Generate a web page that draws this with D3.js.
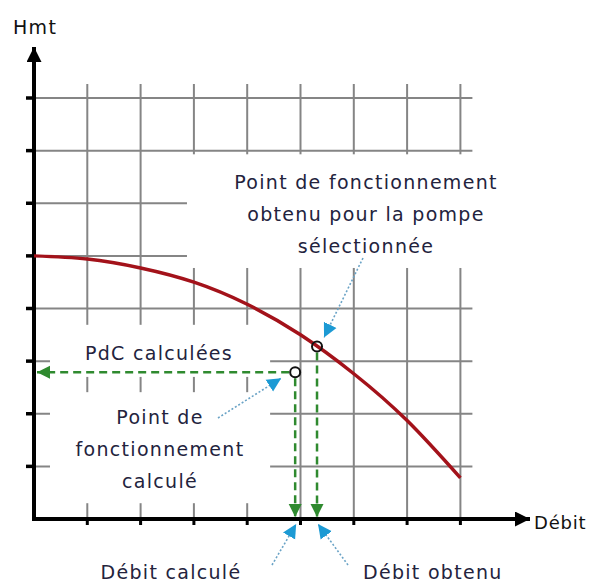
<!DOCTYPE html>
<html>
<head>
<meta charset="utf-8">
<script src="https://cdn.jsdelivr.net/npm/d3@7"></script>
<style>
  body { margin: 0; background: #fff; }
  text { font-family: "DejaVu Sans", sans-serif; }
</style>
</head>
<body>
<div class="D3"></div>
<script>
// pump curve (flow in grid units, head in grid units)
var curveFlow = [0, 1, 2, 3, 4, 5, 6, 7, 8];
var curveHead = [5.0, 4.94, 4.77, 4.5, 4.08, 3.5, 2.76, 1.87, 0.78];

// grid lines / ticks
var gridTicks = [1, 2, 3, 4, 5, 6, 7, 8];

// operating points [flow, head]
var pointObtained = [5.31, 3.28];
var pointCalculated = [4.9, 2.79];

// texts
var yAxisLabel = "Hmt";
var xAxisLabel = "Débit";
var noteObtained = ["Point de fonctionnement", "obtenu pour la pompe", "sélectionnée"];
var notePdc = ["PdC calculées"];
var noteCalculated = ["Point de", "fonctionnement", "calculé"];
var noteFlowCalc = "Débit calculé";
var noteFlowObt = "Débit obtenu";

//svg size
var svgWidth = 591;
var svgHeight = 583;

var svg = d3.select(".D3")
  .append("svg")
  .attr("width", svgWidth)
  .attr("height", svgHeight);

//scales: square grid, origin at bottom left
var x = d3.scaleLinear().domain([0, 8]).range([34, 460.4]);
var y = d3.scaleLinear().domain([0, 8]).range([519, 98]);

var gridColor = "#858585";
var textColor = "#23233d";
var green = "#2f8a2f";
var blue = "#1c9ad4";

//markers
var defs = svg.append("defs");
function addMarker(id, color, w, h) {
  defs.append("marker")
    .attr("id", id)
    .attr("viewBox", "0 0 10 10")
    .attr("refX", 10)
    .attr("refY", 5)
    .attr("markerUnits", "userSpaceOnUse")
    .attr("markerWidth", w)
    .attr("markerHeight", h)
    .attr("orient", "auto")
    .append("path")
    .attr("d", "M0,0 L10,5 L0,10 z")
    .attr("fill", color);
}
addMarker("greenArrow", green, 13, 15);
addMarker("blueArrow", blue, 14, 15);
addMarker("blackArrow", "#000", 16, 15);

//grid
var grid = svg.append("g");
grid.selectAll(".hgrid")
  .data(gridTicks)
  .enter()
  .append("line")
  .attr("x1", x(0))
  .attr("x2", x(8) + 12)
  .attr("y1", d => y(d))
  .attr("y2", d => y(d))
  .attr("stroke", gridColor)
  .attr("stroke-width", 2);

grid.selectAll(".vgrid")
  .data(gridTicks)
  .enter()
  .append("line")
  .attr("x1", d => x(d))
  .attr("x2", d => x(d))
  .attr("y1", y(0))
  .attr("y2", y(8) - 14)
  .attr("stroke", gridColor)
  .attr("stroke-width", 2);

//white boxes behind the notes (they cut the grid)
var boxes = [
  { x0: 2.87, x1: 8.6, y0: 4.77, y1: 6.93 },
  { x0: 0.3, x1: 4.43, y0: 2.7, y1: 3.69 },
  { x0: 0.3, x1: 4.43, y0: 0.3, y1: 2.41 }
];
svg.append("g").selectAll("rect")
  .data(boxes)
  .enter()
  .append("rect")
  .attr("x", d => x(d.x0))
  .attr("y", d => y(d.y1))
  .attr("width", d => x(d.x1) - x(d.x0))
  .attr("height", d => y(d.y0) - y(d.y1))
  .attr("fill", "#fff");

//axes with arrows
var axes = svg.append("g");
axes.append("line")
  .attr("x1", x(0)).attr("x2", x(0))
  .attr("y1", y(0) + 1.5).attr("y2", 47)
  .attr("stroke", "#000")
  .attr("stroke-width", 4)
  .attr("marker-end", "url(#blackArrow)");
axes.append("line")
  .attr("x1", x(0) - 2).attr("x2", 530)
  .attr("y1", y(0)).attr("y2", y(0))
  .attr("stroke", "#000")
  .attr("stroke-width", 4)
  .attr("marker-end", "url(#blackArrow)");

//y ticks (left stubs) and x ticks (below)
axes.selectAll(".ytick")
  .data(gridTicks)
  .enter()
  .append("line")
  .attr("x1", x(0) - 8).attr("x2", x(0))
  .attr("y1", d => y(d)).attr("y2", d => y(d))
  .attr("stroke", "#000")
  .attr("stroke-width", 3.5);
axes.selectAll(".xtick")
  .data(gridTicks)
  .enter()
  .append("line")
  .attr("x1", d => x(d)).attr("x2", d => x(d))
  .attr("y1", y(0)).attr("y2", y(0) + 6)
  .attr("stroke", "#000")
  .attr("stroke-width", 3);

//pump curve
var curveData = curveFlow.map((f, i) => [f, curveHead[i]]);
var line = d3.line()
  .x(d => x(d[0]))
  .y(d => y(d[1]))
  .curve(d3.curveNatural);
svg.append("path")
  .datum(curveData)
  .attr("d", line)
  .attr("fill", "none")
  .attr("stroke", "#a3121a")
  .attr("stroke-width", 3.5);

//green dashed projections
var proj = svg.append("g")
  .attr("stroke", green)
  .attr("stroke-width", 2.5)
  .attr("stroke-dasharray", "8,5")
  .attr("fill", "none");
proj.append("line")
  .attr("x1", x(pointCalculated[0]) - 6).attr("x2", x(0) + 3)
  .attr("y1", y(pointCalculated[1])).attr("y2", y(pointCalculated[1]))
  .attr("marker-end", "url(#greenArrow)");
proj.append("line")
  .attr("x1", x(pointCalculated[0])).attr("x2", x(pointCalculated[0]))
  .attr("y1", y(pointCalculated[1]) + 6).attr("y2", y(0) - 2)
  .attr("marker-end", "url(#greenArrow)");
proj.append("line")
  .attr("x1", x(pointObtained[0])).attr("x2", x(pointObtained[0]))
  .attr("y1", y(pointObtained[1]) + 6).attr("y2", y(0) - 2)
  .attr("marker-end", "url(#greenArrow)");

//operating points
svg.append("g").selectAll("circle")
  .data([pointObtained, pointCalculated])
  .enter()
  .append("circle")
  .attr("cx", d => x(d[0]))
  .attr("cy", d => y(d[1]))
  .attr("r", 5)
  .attr("fill", "none")
  .attr("stroke", "#111")
  .attr("stroke-width", 2);

//blue dotted leaders
var pO = [x(pointObtained[0]), y(pointObtained[1])];
var pC = [x(pointCalculated[0]), y(pointCalculated[1])];
var leaders = [
  [[363, 258], [pO[0] + 7, pO[1] - 9]],
  [[218, 418], [pC[0] - 14, pC[1] + 6]],
  [[272, 565], [pC[0] + 1, y(0) + 5]],
  [[348, 565], [pO[0] + 1, y(0) + 5]]
];
svg.append("g").selectAll("line")
  .data(leaders)
  .enter()
  .append("line")
  .attr("x1", d => d[0][0]).attr("y1", d => d[0][1])
  .attr("x2", d => d[1][0]).attr("y2", d => d[1][1])
  .attr("stroke", "#6aa3c6")
  .attr("stroke-width", 1.6)
  .attr("stroke-dasharray", "2,2")
  .attr("marker-end", "url(#blueArrow)");

//texts
function addLines(lines, cx, firstBaseline, step) {
  svg.append("g").selectAll("text")
    .data(lines)
    .enter()
    .append("text")
    .attr("x", cx)
    .attr("y", (d, i) => firstBaseline + i * step)
    .attr("text-anchor", "middle")
    .attr("font-size", 19)
    .attr("letter-spacing", 1.3)
    .attr("fill", textColor)
    .text(d => d);
}
addLines(noteObtained, 366, 189, 32);
addLines(notePdc, 159, 360, 32);
addLines(noteCalculated, 160, 424, 32);

svg.append("text")
  .attr("x", 13).attr("y", 34)
  .attr("font-size", 19)
  .attr("letter-spacing", 1.3)
  .attr("fill", "#111")
  .text(yAxisLabel);
svg.append("text")
  .attr("x", 534).attr("y", 529)
  .attr("font-size", 18)
  .attr("letter-spacing", 0.8)
  .attr("fill", "#111")
  .text(xAxisLabel);
svg.append("text")
  .attr("x", 171).attr("y", 579)
  .attr("text-anchor", "middle")
  .attr("font-size", 19)
  .attr("letter-spacing", 1.3)
  .attr("fill", textColor)
  .text(noteFlowCalc);
svg.append("text")
  .attr("x", 363).attr("y", 579)
  .attr("font-size", 19)
  .attr("letter-spacing", 1.3)
  .attr("fill", textColor)
  .text(noteFlowObt);
</script>
</body>
</html>
